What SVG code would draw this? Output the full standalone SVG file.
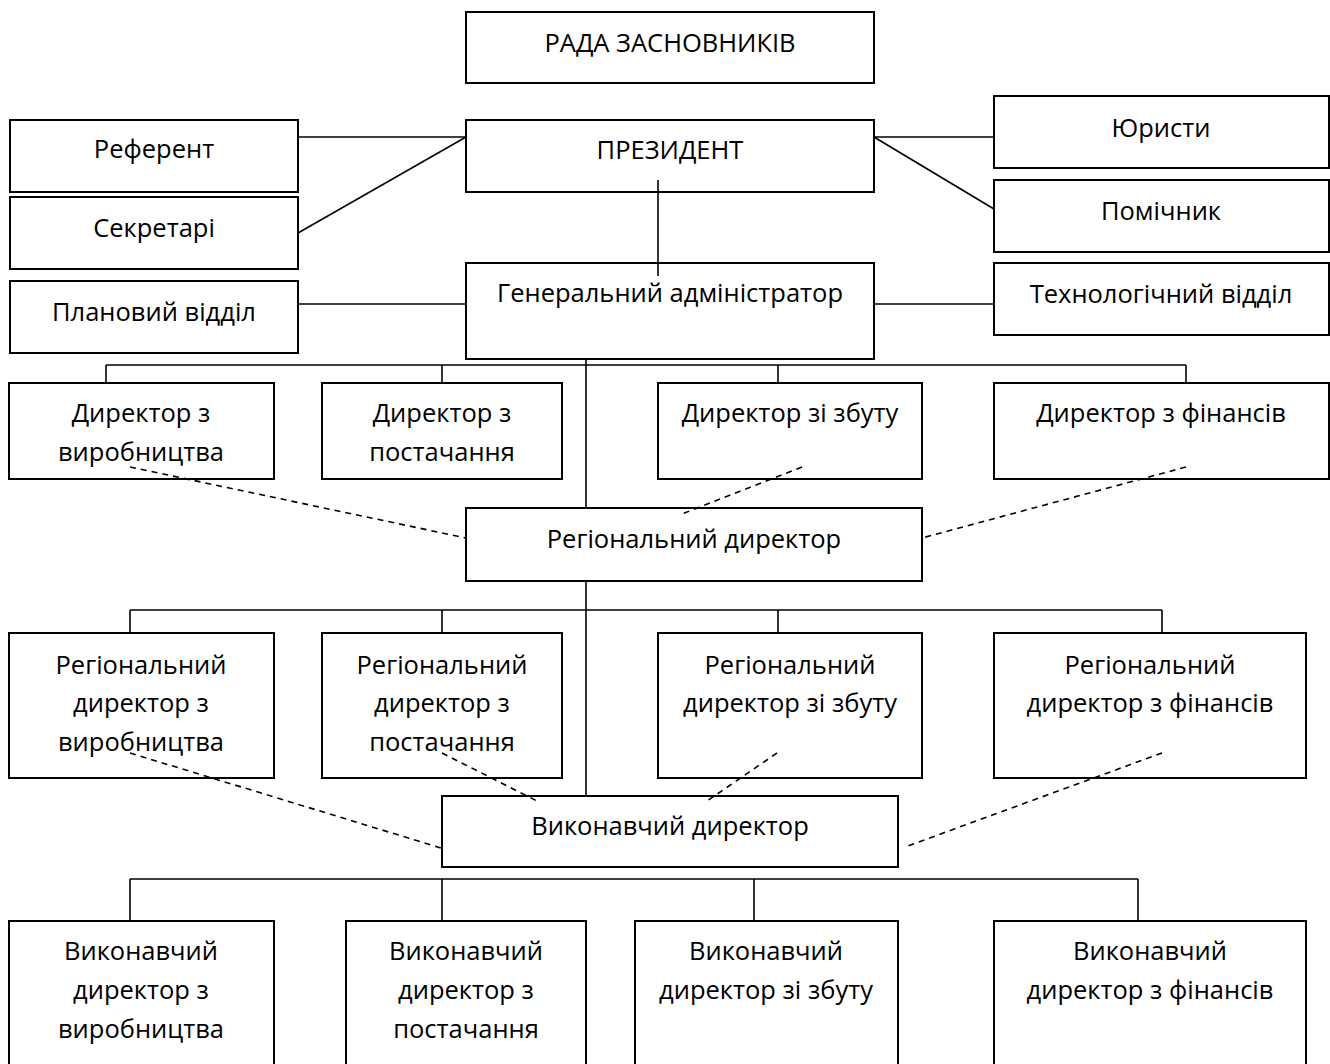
<svg xmlns="http://www.w3.org/2000/svg" width="1330" height="1064" viewBox="0 0 1330 1064">
<style>
rect{fill:#fff;stroke:#000;stroke-width:2}
text{font-family:"Open Sans","Liberation Sans",sans-serif;font-size:25.5px;text-anchor:middle;fill:#000}
.c line{stroke:#000;stroke-width:1.6}
.c line.d{stroke-dasharray:6 5}
</style>
<rect width="1330" height="1064" style="fill:#fff;stroke:none"/>
<g class="c" id="connectors">
<line x1="298" y1="137" x2="466" y2="137"/>
<line x1="298" y1="233" x2="466" y2="137"/>
<line x1="874" y1="137" x2="994" y2="137"/>
<line x1="874" y1="137" x2="994" y2="209"/>
<line x1="298" y1="304" x2="466" y2="304"/>
<line x1="874" y1="304" x2="994" y2="304"/>
<line x1="106" y1="365" x2="1186" y2="365"/>
<line x1="106" y1="365" x2="106" y2="388"/>
<line x1="442" y1="365" x2="442" y2="388"/>
<line x1="778" y1="365" x2="778" y2="388"/>
<line x1="1186" y1="365" x2="1186" y2="388"/>
<line x1="130" y1="610" x2="1162" y2="610"/>
<line x1="130" y1="610" x2="130" y2="634"/>
<line x1="442" y1="610" x2="442" y2="634"/>
<line x1="778" y1="610" x2="778" y2="634"/>
<line x1="1162" y1="610" x2="1162" y2="634"/>
<line x1="130" y1="879" x2="1138" y2="879"/>
<line x1="130" y1="879" x2="130" y2="927"/>
<line x1="442" y1="879" x2="442" y2="927"/>
<line x1="754" y1="879" x2="754" y2="927"/>
<line x1="1138" y1="879" x2="1138" y2="927"/>
<line x1="586" y1="359" x2="586" y2="800"/>
</g>
<g id="n-rada"><rect x="466" y="12" width="408" height="71"/><text x="670" y="52">РАДА ЗАСНОВНИКІВ</text></g>
<g id="n-president"><rect x="466" y="120" width="408" height="72"/><text x="670" y="159">ПРЕЗИДЕНТ</text></g>
<g id="n-referent"><rect x="10" y="120" width="288" height="72"/><text x="154" y="158">Референт</text></g>
<g id="n-secretary"><rect x="10" y="197" width="288" height="72"/><text x="154" y="237">Секретарі</text></g>
<g id="n-plan"><rect x="10" y="281" width="288" height="72"/><text x="154" y="321">Плановий відділ</text></g>
<g id="n-lawyers"><rect x="994" y="96" width="335" height="72"/><text x="1161" y="137">Юристи</text></g>
<g id="n-assistant"><rect x="994" y="180" width="335" height="72"/><text x="1161" y="220">Помічник</text></g>
<g id="n-tech"><rect x="994" y="263" width="335" height="72"/><text x="1161" y="303">Технологічний відділ</text></g>
<g id="n-gen"><rect x="466" y="263" width="408" height="96"/><text x="670" y="302">Генеральний адміністратор</text></g>
<line x1="658" y1="180" x2="658" y2="276" style="stroke:#000;stroke-width:1.6"/>
<g id="n-d1"><rect x="9" y="383" width="265" height="96"/><text x="141" y="422">Директор з</text><text x="141" y="461">виробництва</text></g>
<g id="n-d2"><rect x="322" y="383" width="240" height="96"/><text x="442" y="422">Директор з</text><text x="442" y="461">постачання</text></g>
<g id="n-d3"><rect x="658" y="383" width="264" height="96"/><text x="790" y="422">Директор зі збуту</text></g>
<g id="n-d4"><rect x="994" y="383" width="335" height="96"/><text x="1161" y="422">Директор з фінансів</text></g>
<g id="n-reg"><rect x="466" y="508" width="456" height="73"/><text x="694" y="548">Регіональний директор</text></g>
<g id="n-r1"><rect x="9" y="633" width="265" height="145"/><text x="141" y="674">Регіональний</text><text x="141" y="712">директор з</text><text x="141" y="751">виробництва</text></g>
<g id="n-r2"><rect x="322" y="633" width="240" height="145"/><text x="442" y="674">Регіональний</text><text x="442" y="712">директор з</text><text x="442" y="751">постачання</text></g>
<g id="n-r3"><rect x="658" y="633" width="264" height="145"/><text x="790" y="674">Регіональний</text><text x="790" y="712">директор зі збуту</text></g>
<g id="n-r4"><rect x="994" y="633" width="312" height="145"/><text x="1150" y="674">Регіональний</text><text x="1150" y="712">директор з фінансів</text></g>
<g id="n-exec"><rect x="442" y="796" width="456" height="71"/><text x="670" y="835">Виконавчий директор</text></g>
<g id="n-e1"><rect x="9" y="921" width="265" height="160"/><text x="141" y="960">Виконавчий</text><text x="141" y="999">директор з</text><text x="141" y="1038">виробництва</text></g>
<g id="n-e2"><rect x="346" y="921" width="240" height="160"/><text x="466" y="960">Виконавчий</text><text x="466" y="999">директор з</text><text x="466" y="1038">постачання</text></g>
<g id="n-e3"><rect x="635" y="921" width="263" height="160"/><text x="766" y="960">Виконавчий</text><text x="766" y="999">директор зі збуту</text></g>
<g id="n-e4"><rect x="994" y="921" width="312" height="160"/><text x="1150" y="960">Виконавчий</text><text x="1150" y="999">директор з фінансів</text></g>
<g class="c" id="dashed">
<line class="d" x1="130" y1="467" x2="466" y2="538"/>
<line class="d" x1="802" y1="467" x2="682" y2="514"/>
<line class="d" x1="1186" y1="467" x2="922" y2="538"/>
<line class="d" x1="130" y1="753" x2="441" y2="848"/>
<line class="d" x1="442" y1="753" x2="537" y2="801"/>
<line class="d" x1="777" y1="753" x2="707" y2="801"/>
<line class="d" x1="1162" y1="753" x2="905" y2="847"/>
</g>
</svg>
